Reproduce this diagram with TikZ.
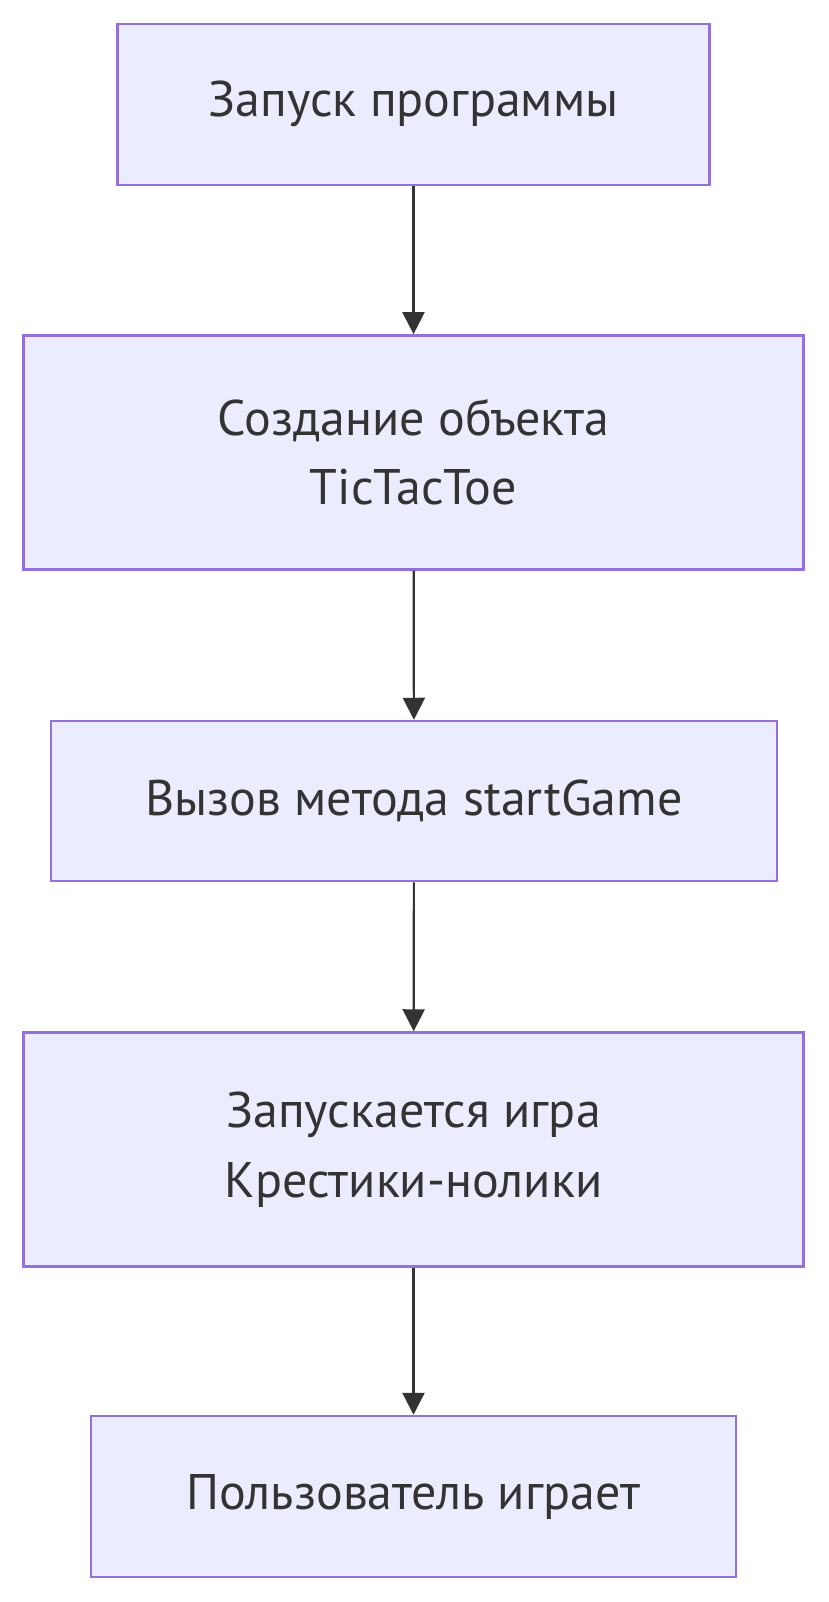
\documentclass[tikz,border=0pt]{standalone}
\usepackage{fontspec}
\setmainfont{PT Sans}
\usetikzlibrary{arrows.meta}
\definecolor{boxfill}{HTML}{ECECFF}
\definecolor{boxline}{HTML}{9370DB}
\definecolor{inkgray}{HTML}{333333}

\begin{document}
\begin{tikzpicture}[x=1pt, y=-1pt,
    stepbox/.style={draw=boxline, line width=2.5pt, fill=boxfill, text=inkgray,
        inner sep=0pt, align=center, font=\fontsize{50}{69.5}\selectfont},
    flow/.style={draw=inkgray, line width=2.2pt, -{Triangle[length=22pt, width=22pt]}}]
    \useasboundingbox (0,0) rectangle (828,1602);

    % Program flow boxes
    \node[stepbox, minimum width=592pt, minimum height=161pt] (launch) at (413.5,104.3) {Запуск программы};
    \node[stepbox, minimum width=780pt, minimum height=234pt] (create) at (413.5,452.4) {Создание объекта\\TicTacToe};
    \node[stepbox, minimum width=726pt, minimum height=160pt] (start) at (414,801) {Вызов метода startGame};
    \node[stepbox, minimum width=780pt, minimum height=234pt] (game) at (413.5,1149.5) {Запускается игра\\Крестики-нолики};
    \node[stepbox, minimum width=645pt, minimum height=161pt] (play) at (413.5,1496.5) {Пользователь играет};

    % Arrows between steps
    \draw[flow] (launch) -- (create);
    \draw[flow] (create) -- (start);
    \draw[flow] (start) -- (game);
    \draw[flow] (game) -- (play);
\end{tikzpicture}
\end{document}
